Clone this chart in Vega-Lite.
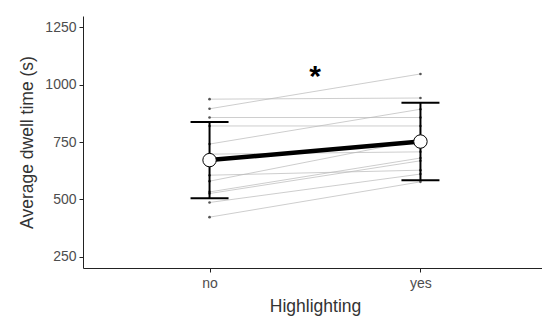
{
  "$schema": "https://vega.github.io/schema/vega-lite/v6.json",
  "width": 464,
  "height": 252,
  "autosize": {"type": "none"},
  "padding": {"left": 83, "top": 16, "right": 0, "bottom": 55},
  "background": "white",
  "config": {
    "view": {"stroke": null},
    "font": "Liberation Sans",
    "axis": {
      "grid": false,
      "domainColor": "#222222",
      "tickColor": "#222222",
      "tickSize": 4,
      "labelFont": "Liberation Sans",
      "labelFontSize": 14,
      "labelColor": "#4d4d4d",
      "titleFont": "Liberation Sans",
      "titleFontSize": 17.5,
      "titleFontWeight": "normal",
      "titleColor": "#333333"
    }
  },
  "datasets": {
    "subjects": [
      {"subject": 1, "highlighting": "no", "time": 937},
      {"subject": 1, "highlighting": "yes", "time": 942},
      {"subject": 2, "highlighting": "no", "time": 895},
      {"subject": 2, "highlighting": "yes", "time": 1047},
      {"subject": 3, "highlighting": "no", "time": 857},
      {"subject": 3, "highlighting": "yes", "time": 857},
      {"subject": 4, "highlighting": "no", "time": 820},
      {"subject": 4, "highlighting": "yes", "time": 820},
      {"subject": 5, "highlighting": "no", "time": 741},
      {"subject": 5, "highlighting": "yes", "time": 893},
      {"subject": 6, "highlighting": "no", "time": 697},
      {"subject": 6, "highlighting": "yes", "time": 707},
      {"subject": 7, "highlighting": "no", "time": 605},
      {"subject": 7, "highlighting": "yes", "time": 627},
      {"subject": 8, "highlighting": "no", "time": 579},
      {"subject": 8, "highlighting": "yes", "time": 760},
      {"subject": 9, "highlighting": "no", "time": 532},
      {"subject": 9, "highlighting": "yes", "time": 680},
      {"subject": 10, "highlighting": "no", "time": 525},
      {"subject": 10, "highlighting": "yes", "time": 668},
      {"subject": 11, "highlighting": "no", "time": 486},
      {"subject": 11, "highlighting": "yes", "time": 610},
      {"subject": 12, "highlighting": "no", "time": 422},
      {"subject": 12, "highlighting": "yes", "time": 576}
    ],
    "summary": [
      {"highlighting": "no", "mean": 671, "lower": 504, "upper": 837},
      {"highlighting": "yes", "mean": 752, "lower": 583, "upper": 921}
    ],
    "annotation": [
      {"pos": 0.5, "time": 995, "label": "*"}
    ]
  },
  "layer": [
    {
      "encoding": {
        "x": {
          "field": "highlighting",
          "type": "nominal",
          "scale": {"type": "point", "domain": ["no", "yes"], "padding": 0.6},
          "axis": {"title": "Highlighting", "labelAngle": 0, "labelPadding": 4, "titlePadding": 7}
        }
      },
      "layer": [
        {
          "data": {"name": "subjects"},
          "mark": {"type": "line", "color": "#b8b8b8", "strokeWidth": 0.7},
          "encoding": {
            "y": {
              "field": "time",
              "type": "quantitative",
              "scale": {"domain": [200, 1300], "nice": false, "zero": false},
              "axis": {"title": "Average dwell time (s)", "values": [250, 500, 750, 1000, 1250], "format": "d", "labelPadding": 3, "titlePadding": 8}
            },
            "detail": {"field": "subject", "type": "nominal"}
          }
        },
        {
          "data": {"name": "subjects"},
          "mark": {"type": "circle", "color": "#555555", "size": 7, "opacity": 1},
          "encoding": {
            "y": {"field": "time", "type": "quantitative"}
          }
        },
        {
          "data": {"name": "summary"},
          "mark": {"type": "rule", "color": "black", "strokeWidth": 2, "opacity": 1},
          "encoding": {
            "y": {"field": "lower", "type": "quantitative"},
            "y2": {"field": "upper"}
          }
        },
        {
          "data": {"name": "summary"},
          "mark": {"type": "tick", "color": "black", "thickness": 2, "size": 38, "orient": "horizontal", "opacity": 1},
          "encoding": {
            "y": {"field": "lower", "type": "quantitative"}
          }
        },
        {
          "data": {"name": "summary"},
          "mark": {"type": "tick", "color": "black", "thickness": 2, "size": 38, "orient": "horizontal", "opacity": 1},
          "encoding": {
            "y": {"field": "upper", "type": "quantitative"}
          }
        },
        {
          "data": {"name": "summary"},
          "mark": {"type": "line", "color": "black", "strokeWidth": 4.5},
          "encoding": {
            "y": {"field": "mean", "type": "quantitative"}
          }
        },
        {
          "data": {"name": "summary"},
          "mark": {"type": "point", "shape": "circle", "filled": true, "fill": "white", "stroke": "black", "strokeWidth": 1, "size": 180, "opacity": 1},
          "encoding": {
            "y": {"field": "mean", "type": "quantitative"}
          }
        }
      ]
    },
    {
      "data": {"name": "annotation"},
      "mark": {"type": "text", "fontSize": 30, "fontWeight": "bold", "baseline": "alphabetic", "align": "center", "color": "black"},
      "encoding": {
        "x": {"field": "pos", "type": "quantitative", "scale": {"domain": [0, 1]}, "axis": null},
        "y": {"field": "time", "type": "quantitative"},
        "text": {"field": "label"}
      }
    }
  ],
  "resolve": {"scale": {"x": "independent"}}
}
